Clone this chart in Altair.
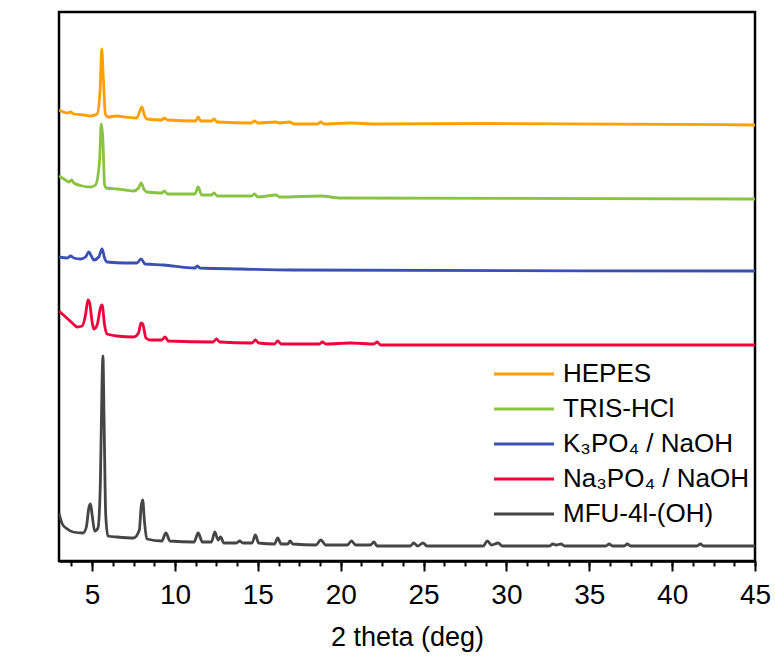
import altair as alt
import pandas as pd

# Powder XRD patterns: 2-theta (deg) and intensity (a.u.) per sample
hepes_x = [3.0, 3.5, 3.7, 3.9, 4.5, 4.9, 5.3, 5.48, 5.58, 5.68, 5.8, 5.95, 6.5, 7.0, 7.7, 7.9, 8.0, 8.15,
           8.3, 9.2, 9.35, 9.55, 11.25, 11.4, 11.55, 12.2, 12.35, 12.55, 14.6, 14.8, 15.0, 16.1, 16.3,
           16.9, 17.2, 18.6, 18.8, 19.0, 20.6, 22.1, 28.9, 45.0]
hepes_i = [15, 12, 13, 11, 10, 9, 11, 35, 76, 45, 11, 8, 9, 8, 7, 15, 18, 10,
           6, 5, 7, 5, 4, 8, 4, 4, 6, 3, 2, 4, 2, 3, 2,
           3, 1, 1, 3, 1, 2, 1, 1.5, 0]

tris_x = [3.0, 3.3, 3.6, 3.75, 3.9, 4.4, 4.9, 5.2, 5.45, 5.55, 5.65, 5.75, 5.85, 6.5, 7.0, 7.5, 7.8, 7.95,
          8.15, 8.3, 9.2, 9.35, 9.55, 11.2, 11.4, 11.6, 12.2, 12.35, 12.55, 14.6, 14.8, 15.0, 16.1,
          16.3, 18.8, 20.0, 45.0]
tris_i = [23, 20, 17, 19, 16, 13, 12, 14, 39, 75, 59, 14, 11, 10, 9, 8, 11, 16,
          9, 7, 6, 8, 5, 5, 12, 4, 4, 6, 3, 3, 5, 2, 4,
          2, 3, 1, 0]

k3po4_x = [3.0, 3.5, 3.7, 3.9, 4.3, 4.6, 4.8, 4.95, 5.1, 5.4, 5.6, 5.75, 5.9, 7.0, 7.7, 7.95, 8.2, 9.3,
           11.2, 11.35, 11.5, 14.0, 17.0, 45.0]
k3po4_i = [14, 13, 15, 13, 12, 14, 19, 15, 11, 14, 22, 13, 9, 8, 8, 12, 7, 6,
           3, 5, 3, 2, 1, 0]

na3po4_x = [3.0, 3.4, 3.8, 4.1, 4.4, 4.6, 4.75, 4.85, 5.0, 5.1, 5.3, 5.5, 5.6, 5.75, 5.9, 6.5, 7.5, 7.8,
            7.95, 8.05, 8.25, 8.5, 9.2, 9.4, 9.6, 12.3, 12.5, 12.7, 14.65, 14.85, 15.05, 16.0, 16.2,
            16.4, 18.7, 18.9, 19.1, 20.6, 22.0, 22.2, 22.4, 45.0]
na3po4_i = [34, 28, 22, 18, 19, 30, 45, 42, 23, 16, 20, 37, 40, 20, 11, 9, 8, 12,
            22, 21, 7, 5, 5, 8, 4, 3, 6, 3, 2, 5, 2, 1, 4,
            1, 1, 3, 1, 2, 1, 3, 0, 0]

mfu_x = [3.0, 3.2, 3.5, 3.85, 4.45, 4.65, 4.8, 4.9, 5.0, 5.15, 5.35, 5.5, 5.6, 5.65, 5.72, 5.82, 5.95,
         6.5, 7.5, 7.85, 7.95, 8.05, 8.15, 8.3, 9.2, 9.45, 9.7, 11.15, 11.4, 11.65, 12.2, 12.4, 12.6,
         12.75, 12.95, 13.7, 13.9, 14.1, 14.65, 14.85, 15.05, 16.0, 16.2, 16.4, 16.8, 16.95, 17.1,
         18.5, 18.8, 19.1, 20.4, 20.65, 20.9, 21.8, 22.0, 22.2, 24.2, 24.4, 24.65, 24.97, 25.2,
         28.6, 28.85, 29.1, 29.5, 29.75, 32.6, 32.8, 33.0, 33.3, 33.5, 36.0, 36.2, 36.4, 37.1,
         37.3, 37.5, 41.5, 41.7, 41.9, 45.0]
mfu_i = [33, 22, 17, 14, 13, 19, 38, 42, 31, 15, 18, 66, 166, 190, 126, 31, 10,
         9, 8, 16, 38, 46, 26, 7, 5, 13, 5, 4, 13, 4, 4, 14, 6,
         9, 3, 3, 5, 3, 3, 11, 3, 2, 8, 2, 2, 5, 2,
         1, 6, 1, 1, 5, 1, 1, 4, 0, 0, 3, 0, 3, 0,
         0, 5, 1, 3, 0, 0, 2, 1, 2, 0, 0, 2, 0, 0,
         2, 0, 0, 2, 0, 0]

sample_names = ["HEPES", "TRIS-HCl", "K₃PO₄ / NaOH", "Na₃PO₄ / NaOH", "MFU-4l-(OH)"]
sample_colors = ["#FFA000", "#88C441", "#3A50B4", "#F2003C", "#454545"]
# vertical shift applied to each pattern so they stack
offsets = [436, 362, 290, 216, 15]

patterns = [(hepes_x, hepes_i), (tris_x, tris_i), (k3po4_x, k3po4_i),
            (na3po4_x, na3po4_i), (mfu_x, mfu_i)]

rows = []
for name, off, (xs, ys) in zip(sample_names, offsets, patterns):
    for x, y in zip(xs, ys):
        rows.append({"sample": name, "two_theta": x, "intensity": y + off})
df = pd.DataFrame(rows)

major_ticks = [5, 10, 15, 20, 25, 30, 35, 40, 45]
minor_ticks = [3.75 + 1.25 * k for k in range(34)]

FONT = "Liberation Sans"
x_scale = alt.Scale(domain=[3, 45], nice=False)
y_scale = alt.Scale(domain=[0, 549], nice=False, zero=False)

color = alt.Color(
    "sample:N",
    scale=alt.Scale(domain=sample_names, range=sample_colors),
    legend=alt.Legend(
        title=None, orient="none", legendX=452, legendY=349, padding=0,
        symbolType="M-3,0H3", symbolSize=400, symbolStrokeWidth=3,
        labelFont=FONT, labelFontSize=26, labelColor="black", labelOffset=26,
        rowPadding=9, labelLimit=400,
    ),
)

lines = alt.Chart(df).mark_line(strokeWidth=2.8, clip=True, interpolate="monotone").encode(
    x=alt.X("two_theta:Q", scale=x_scale,
            axis=alt.Axis(orient="bottom", values=major_ticks, title="2 theta (deg)",
                          grid=False, domain=True, domainColor="black", domainWidth=2.5,
                          ticks=True, tickSize=10, tickWidth=2, tickColor="black",
                          labelFont=FONT, labelFontSize=28, labelColor="black",
                          labelBaseline="alphabetic", labelPadding=32, labelFlush=False,
                          titleFont=FONT, titleFontSize=27, titleFontWeight="normal",
                          titleColor="black", titleBaseline="alphabetic",
                          titleX=348, titleY=84)),
    y=alt.Y("intensity:Q", scale=y_scale,
            axis=alt.Axis(title="Intensity", labels=False, ticks=False, grid=False,
                          domainColor="black", domainWidth=2.5,
                          titleFont=FONT, titleFontSize=31, titleFontWeight="normal",
                          titleColor="black", titleBaseline="alphabetic",
                          titleX=-29, titleY=285)),
    color=color,
)

# second bottom axis carrying the minor ticks
minor = alt.Chart(df).mark_line(opacity=0).encode(
    x=alt.X("two_theta:Q", scale=x_scale,
            axis=alt.Axis(orient="bottom", values=minor_ticks, title=None, labels=False,
                          grid=False, domain=False, ticks=True, tickSize=5, tickWidth=2,
                          tickColor="black")),
    y=alt.Y("intensity:Q", scale=y_scale, axis=None),
    detail="sample:N",
)

chart = alt.layer(lines, minor).resolve_axis(x="independent").properties(
    width=696, height=549,
    autosize=alt.AutoSizeParams(type="none"),
    padding={"left": 59, "top": 12, "right": 20, "bottom": 102},
    background="white",
).configure_view(stroke="black", strokeWidth=2.5)

chart.save("out.html", embed_options={"renderer": "svg", "actions": False})
